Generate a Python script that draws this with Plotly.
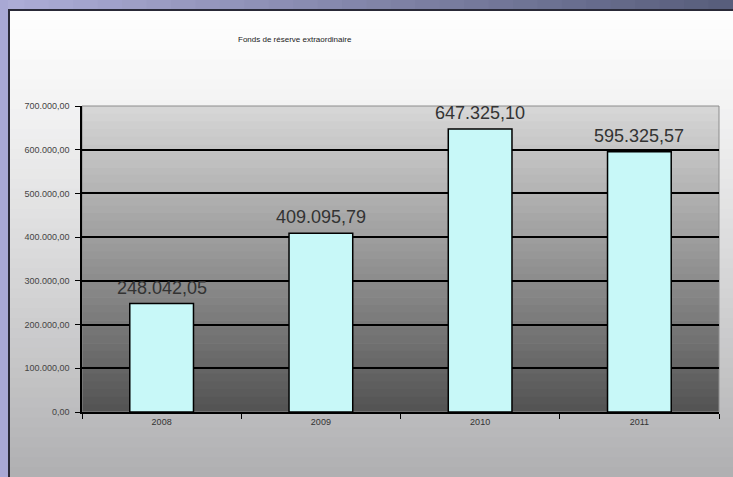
import plotly.graph_objects as go

# Fonds de réserve extraordinaire, par année
years = ["2008", "2009", "2010", "2011"]
amounts = [248042.05, 409095.79, 647325.10, 595325.57]
y_ticks = [0, 100000, 200000, 300000, 400000, 500000, 600000, 700000]

W, H = 733, 477
L, R, T, B = 82, 14, 106, 65
PW, PH = W - L - R, H - T - B


def px_x(px):
    return (px - L) / PW


def px_y(py):
    return (H - B - py) / PH


def lerp(c1, c2, t):
    return "rgb(%d,%d,%d)" % tuple(round(a + (b - a) * t) for a, b in zip(c1, c2))


def fmt(v):
    s = f"{v:,.2f}"
    return s.replace(",", " ").replace(".", ",").replace(" ", ".")


shapes = []

# page background: white fading to light grey
n = 48
for i in range(n):
    y0 = i * H / n
    y1 = (i + 1) * H / n + 1
    t = i / (n - 1)
    col = lerp((255, 255, 255), (176, 176, 178), min(1, t ** 1.2))
    shapes.append(dict(type="rect", xref="paper", yref="paper",
                       x0=px_x(0), x1=px_x(W), y0=px_y(y1), y1=px_y(y0),
                       fillcolor=col, line=dict(width=0), layer="below"))

# plot area: light grey at top to dark grey at bottom
n = 40
for i in range(n):
    t = i / (n - 1)
    col = lerp((214, 214, 214), (84, 84, 84), t)
    shapes.append(dict(type="rect", xref="paper", yref="paper",
                       x0=0, x1=1, y0=1 - (i + 1) / n - 0.002, y1=1 - i / n,
                       fillcolor=col, line=dict(width=0), layer="below"))

# thin border round the plot area
shapes.append(dict(type="rect", xref="paper", yref="paper", x0=0, x1=1, y0=0, y1=1,
                   line=dict(color="#8c8c8c", width=1), fillcolor="rgba(0,0,0,0)",
                   layer="below"))

# window frame: top strip and left strip
n = 30
for i in range(n):
    x0 = i * W / n
    x1 = (i + 1) * W / n + 1
    col = lerp((172, 172, 214), (88, 94, 124), i / (n - 1))
    shapes.append(dict(type="rect", xref="paper", yref="paper",
                       x0=px_x(x0), x1=px_x(x1), y0=px_y(9), y1=px_y(0),
                       fillcolor=col, line=dict(width=0), layer="above"))
shapes.append(dict(type="rect", xref="paper", yref="paper",
                   x0=px_x(0), x1=px_x(8), y0=px_y(H), y1=px_y(0),
                   fillcolor="#a8a8d4", line=dict(width=0), layer="above"))
shapes.append(dict(type="line", xref="paper", yref="paper",
                   x0=px_x(8), x1=px_x(W), y0=px_y(10), y1=px_y(10),
                   line=dict(color="#2a2a38", width=2), layer="above"))
shapes.append(dict(type="line", xref="paper", yref="paper",
                   x0=px_x(9), x1=px_x(9), y0=px_y(H), y1=px_y(9),
                   line=dict(color="#2a2a38", width=2), layer="above"))

fig = go.Figure(go.Bar(
    x=years,
    y=amounts,
    marker=dict(color="#c8f8f8", line=dict(color="black", width=1.5)),
    hoverinfo="x+y",
))

# value labels above each bar (x given as the category's serial number)
annotations = [dict(
    x=i, y=v, xref="x", yref="y", text=fmt(v), showarrow=False,
    yanchor="bottom", yshift=4,
    font=dict(family="Liberation Sans, Arial", size=18, color="#333333"),
) for i, v in enumerate(amounts)]

annotations.append(dict(
    text="Fonds de réserve extraordinaire", xref="paper", yref="paper",
    x=px_x(295), y=px_y(33), showarrow=False,
    font=dict(size=8, color="#222"),
))

fig.update_layout(
    width=W, height=H,
    margin=dict(l=L, r=R, t=T, b=B),
    separators=",.",
    paper_bgcolor="white",
    plot_bgcolor="rgba(0,0,0,0)",
    bargap=0.6,
    showlegend=False,
    shapes=shapes,
    annotations=annotations,
    font=dict(family="Liberation Sans, Arial", color="#333"),
)

fig.update_xaxes(
    type="category", categoryorder="array", categoryarray=years,
    range=[-0.5, len(years) - 0.5],
    showline=True, linecolor="black", linewidth=1.5,
    ticks="outside", tickson="boundaries", ticklen=5, tickcolor="black",
    tickfont=dict(size=9, color="#333"), showgrid=False,
)
fig.update_yaxes(
    range=[0, 700000], tickvals=y_ticks, tickformat=",.2f",
    showline=True, linecolor="black", linewidth=1.5,
    ticks="outside", ticklen=5, tickcolor="black", ticklabelstandoff=4,
    tickfont=dict(size=9, color="#444"),
    showgrid=True, gridcolor="black", gridwidth=1.5, zeroline=False,
)

fig.write_html("out.html")
